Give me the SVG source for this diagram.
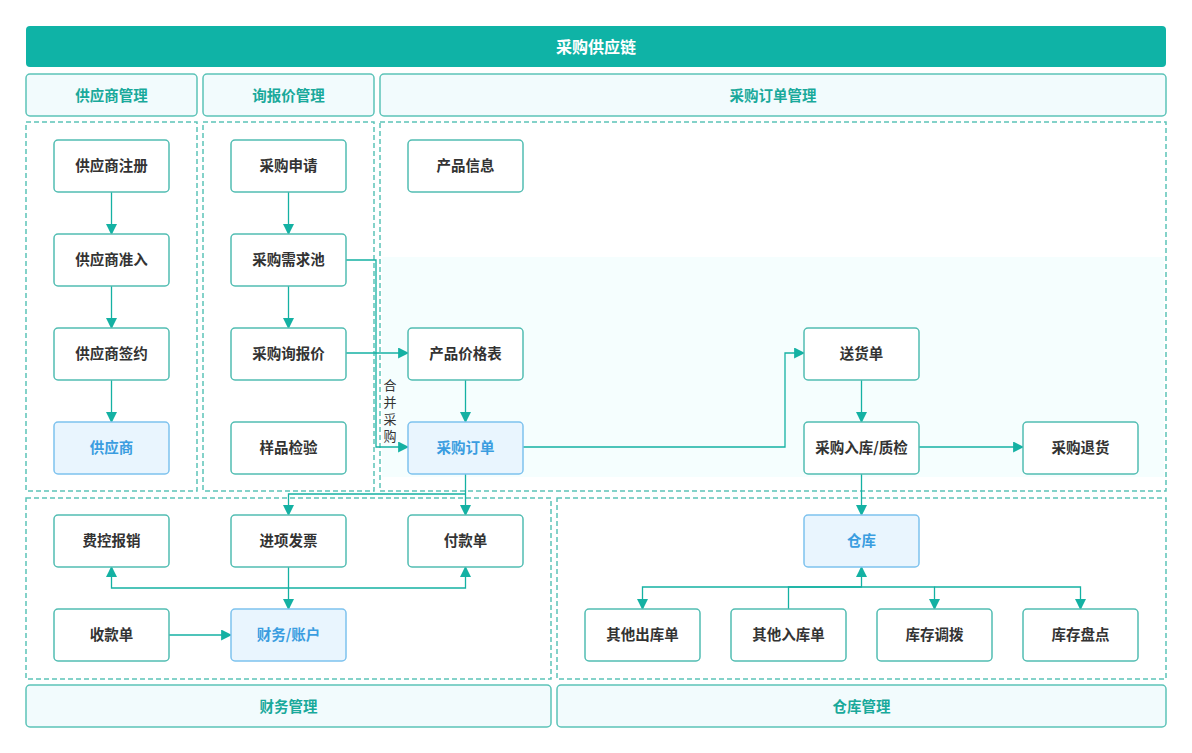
<svg xmlns="http://www.w3.org/2000/svg" width="1192" height="753" viewBox="0 0 1192 753">
<defs>
<marker id="arr" viewBox="0 0 10 10" refX="9" refY="5" markerWidth="11" markerHeight="11" markerUnits="userSpaceOnUse" orient="auto">
<path d="M0,0 L10,5 L0,10 z" fill="#14b1a3"/>
</marker>
<style>
text{font-family:"Noto Sans CJK SC","Noto Sans",sans-serif;text-anchor:middle;dominant-baseline:central}
.hdr rect{fill:#f2fbfd;stroke:#5cc3b8;stroke-width:1.5}
.hdr text{fill:#19a99b;font-size:14.5px;font-weight:bold}
.zone{fill:none;stroke:#5cc3b8;stroke-width:1.5;stroke-dasharray:5 3}
.node rect{fill:#ffffff;stroke:#52bdb2;stroke-width:1.5}
.node text{fill:#333333;font-size:14.5px;font-weight:bold}
.blue rect{fill:#e9f5fe;stroke:#7dc2ee}
.blue text{fill:#3a9de0}
.c{fill:none;stroke:#14b1a3;stroke-width:1.3}
.a{marker-end:url(#arr)}
</style>
</defs>
<rect x="0" y="0" width="1192" height="753" fill="#ffffff"/>
<g id="title">
<rect x="26" y="26" width="1140" height="41" rx="4" fill="#0fb3a6"/>
<text x="596" y="45.5" fill="#ffffff" font-size="16" font-weight="bold">采购供应链</text>
</g>
<g id="headers" class="hdr">
<g id="h-supplier"><rect x="26" y="74" width="171" height="42" rx="4"/><text x="111.5" y="94.5">供应商管理</text></g>
<g id="h-quote"><rect x="203" y="74" width="171" height="42" rx="4"/><text x="288.5" y="94.5">询报价管理</text></g>
<g id="h-order"><rect x="380" y="74" width="786" height="42" rx="4"/><text x="773" y="94.5">采购订单管理</text></g>
<g id="h-finance"><rect x="26" y="685" width="525" height="42" rx="4"/><text x="288.5" y="705.5">财务管理</text></g>
<g id="h-warehouse"><rect x="557" y="685" width="609" height="42" rx="4"/><text x="861.5" y="705.5">仓库管理</text></g>
</g>
<g id="zones">
<rect x="382" y="257" width="782" height="220" fill="#f5fefe"/>
<rect class="zone" x="26" y="122" width="171" height="369"/>
<rect class="zone" x="203" y="122" width="171" height="369"/>
<rect class="zone" x="380" y="122" width="786" height="369"/>
<rect class="zone" x="26" y="498" width="525" height="181"/>
<rect class="zone" x="557" y="498" width="609" height="181"/>
</g>
<g id="connectors">
<path class="c a" d="M111.5,192 V234"/>
<path class="c a" d="M111.5,286 V328"/>
<path class="c a" d="M111.5,380 V422"/>
<path class="c a" d="M288.5,192 V234"/>
<path class="c a" d="M288.5,286 V328"/>
<path class="c a" d="M346,260 H376 V447 H408"/>
<path class="c a" d="M346,353 H408"/>
<path class="c a" d="M465.5,380 V422"/>
<path class="c a" d="M523,447 H785 V353 H804"/>
<path class="c a" d="M861.5,380 V422"/>
<path class="c a" d="M919,447 H1023"/>
<path class="c a" d="M861.5,474 V515"/>
<path class="c a" d="M465.5,474 V515"/>
<path class="c a" d="M465.5,494 H288.5 V515"/>
<path class="c a" d="M288.5,567 V609"/>
<path class="c a" d="M288.5,588 H111.5 V567"/>
<path class="c a" d="M288.5,588 H465.5 V567"/>
<path class="c a" d="M169,635 H231"/>
<path class="c a" d="M788.5,609 V587 H861.5 V567"/>
<path class="c a" d="M861.5,587 H642.5 V609"/>
<path class="c a" d="M861.5,587 H934.5 V609"/>
<path class="c a" d="M934.5,587 H1080.5 V609"/>
<g fill="#333333" font-size="13"><text x="390" y="384">合</text><text x="390" y="401">并</text><text x="390" y="418">采</text><text x="390" y="435">购</text></g>
</g>
<g id="n1" class="node"><rect x="54" y="140" width="115" height="52" rx="4"/><text x="111.5" y="164.5">供应商注册</text></g>
<g id="n2" class="node"><rect x="54" y="234" width="115" height="52" rx="4"/><text x="111.5" y="258.5">供应商准入</text></g>
<g id="n3" class="node"><rect x="54" y="328" width="115" height="52" rx="4"/><text x="111.5" y="352.5">供应商签约</text></g>
<g id="n4" class="node blue"><rect x="54" y="422" width="115" height="52" rx="4"/><text x="111.5" y="446.5">供应商</text></g>
<g id="n5" class="node"><rect x="231" y="140" width="115" height="52" rx="4"/><text x="288.5" y="164.5">采购申请</text></g>
<g id="n6" class="node"><rect x="231" y="234" width="115" height="52" rx="4"/><text x="288.5" y="258.5">采购需求池</text></g>
<g id="n7" class="node"><rect x="231" y="328" width="115" height="52" rx="4"/><text x="288.5" y="352.5">采购询报价</text></g>
<g id="n8" class="node"><rect x="231" y="422" width="115" height="52" rx="4"/><text x="288.5" y="446.5">样品检验</text></g>
<g id="n9" class="node"><rect x="408" y="140" width="115" height="52" rx="4"/><text x="465.5" y="164.5">产品信息</text></g>
<g id="n10" class="node"><rect x="408" y="328" width="115" height="52" rx="4"/><text x="465.5" y="352.5">产品价格表</text></g>
<g id="n11" class="node blue"><rect x="408" y="422" width="115" height="52" rx="4"/><text x="465.5" y="446.5">采购订单</text></g>
<g id="n12" class="node"><rect x="804" y="328" width="115" height="52" rx="4"/><text x="861.5" y="352.5">送货单</text></g>
<g id="n13" class="node"><rect x="804" y="422" width="115" height="52" rx="4"/><text x="861.5" y="446.5">采购入库/质检</text></g>
<g id="n14" class="node"><rect x="1023" y="422" width="115" height="52" rx="4"/><text x="1080.5" y="446.5">采购退货</text></g>
<g id="n15" class="node"><rect x="54" y="515" width="115" height="52" rx="4"/><text x="111.5" y="539.5">费控报销</text></g>
<g id="n16" class="node"><rect x="231" y="515" width="115" height="52" rx="4"/><text x="288.5" y="539.5">进项发票</text></g>
<g id="n17" class="node"><rect x="408" y="515" width="115" height="52" rx="4"/><text x="465.5" y="539.5">付款单</text></g>
<g id="n18" class="node"><rect x="54" y="609" width="115" height="52" rx="4"/><text x="111.5" y="633.5">收款单</text></g>
<g id="n19" class="node blue"><rect x="231" y="609" width="115" height="52" rx="4"/><text x="288.5" y="633.5">财务/账户</text></g>
<g id="n20" class="node blue"><rect x="804" y="515" width="115" height="52" rx="4"/><text x="861.5" y="539.5">仓库</text></g>
<g id="n21" class="node"><rect x="585" y="609" width="115" height="52" rx="4"/><text x="642.5" y="633.5">其他出库单</text></g>
<g id="n22" class="node"><rect x="731" y="609" width="115" height="52" rx="4"/><text x="788.5" y="633.5">其他入库单</text></g>
<g id="n23" class="node"><rect x="877" y="609" width="115" height="52" rx="4"/><text x="934.5" y="633.5">库存调拨</text></g>
<g id="n24" class="node"><rect x="1023" y="609" width="115" height="52" rx="4"/><text x="1080.5" y="633.5">库存盘点</text></g>
</svg>
